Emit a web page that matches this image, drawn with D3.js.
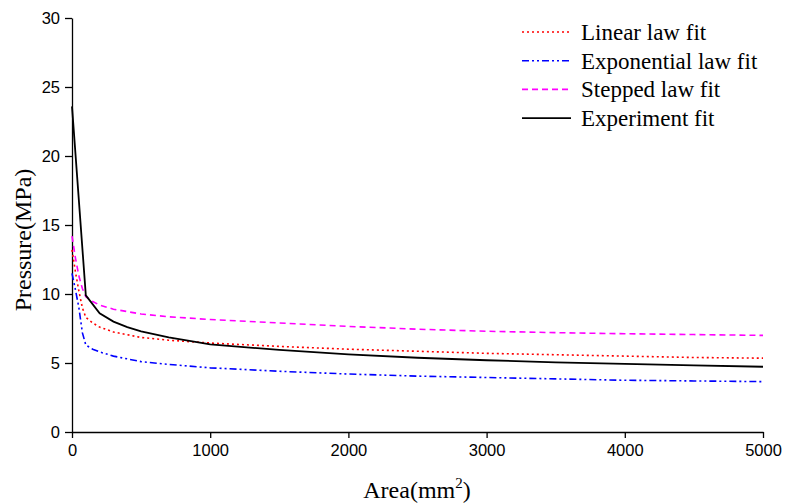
<!DOCTYPE html>
<html>
<head>
<meta charset="utf-8">
<script src="https://cdn.jsdelivr.net/npm/d3@7"></script>
<style>
  body { margin: 0; background: #fff; }
  svg { display: block; }
  .tick text { font-family: "Liberation Sans", Arial, sans-serif; font-size: 16.5px; fill: #000; }
</style>
</head>
<body>
<div id="chart"></div>
<script>
// x values (area, mm^2) and fitted pressures (MPa)
var areaExp = [0, 100, 200, 300, 400, 500, 700, 1000, 1500, 2000, 2500, 3000, 3500, 4000, 4500, 5000];
var pressExp = [23.6, 9.9, 8.6, 8.0, 7.6, 7.3, 6.85, 6.35, 5.95, 5.62, 5.38, 5.2, 5.05, 4.93, 4.83, 4.73];

var areaFit = [0, 25, 50, 75, 100, 150, 200, 300, 500, 700, 1000, 1500, 2000, 2500, 3000, 3500, 4000, 4500, 5000];
var pressLinear = [13.2, 11.6, 10.2, 9.0, 8.3, 7.9, 7.6, 7.25, 6.85, 6.65, 6.45, 6.2, 6.0, 5.85, 5.7, 5.6, 5.5, 5.4, 5.35];
var pressExpo = [11.5, 10.3, 9.0, 7.2, 6.3, 6.0, 5.8, 5.5, 5.1, 4.9, 4.65, 4.4, 4.2, 4.05, 3.95, 3.85, 3.75, 3.7, 3.65];
var pressStepped = [14.2, 12.6, 11.3, 10.4, 9.8, 9.45, 9.2, 8.9, 8.55, 8.35, 8.15, 7.9, 7.65, 7.45, 7.3, 7.2, 7.12, 7.06, 7.0];

var xTicks = [0, 1000, 2000, 3000, 4000, 5000];
var yTicks = [0, 5, 10, 15, 20, 25, 30];

var seriesList = [
  {name: "Linear law fit", x: areaFit, y: pressLinear, color: "#ff0000", dash: "2,3", width: 1.6},
  {name: "Exponential law fit", x: areaFit, y: pressExpo, color: "#0000ff", dash: "7,3,2,3,2,3", width: 1.6},
  {name: "Stepped law fit", x: areaFit, y: pressStepped, color: "#ff00ff", dash: "6,4", width: 1.6},
  {name: "Experiment fit", x: areaExp, y: pressExp, color: "#000000", dash: null, width: 1.8}
];

var width = 786, height = 504;
var margin = {left: 72, right: 23, top: 18, bottom: 72};
var serif = "'Liberation Serif', 'Times New Roman', serif";

var svg = d3.select("#chart").append("svg")
  .attr("width", width)
  .attr("height", height);

var xScale = d3.scaleLinear().domain([0, 5000]).range([margin.left, width - margin.right]);
var yScale = d3.scaleLinear().domain([0, 30]).range([height - margin.bottom, margin.top]);

//x axis
svg.append("g")
  .attr("transform", "translate(0," + (height - margin.bottom) + ")")
  .call(d3.axisBottom(xScale).tickValues(xTicks).tickFormat(d3.format("d"))
    .tickSize(6).tickSizeOuter(0).tickPadding(6));

//y axis
svg.append("g")
  .attr("transform", "translate(" + margin.left + ",0)")
  .call(d3.axisLeft(yScale).tickValues(yTicks).tickFormat(d3.format("d"))
    .tickSize(7).tickSizeOuter(0).tickPadding(5));

svg.selectAll(".domain, .tick line").style("stroke", "#000").style("stroke-width", 1.3);

//curves
var line = d3.line()
  .x(function(d){ return xScale(d[0]); })
  .y(function(d){ return yScale(d[1]); });

svg.selectAll(".curve")
  .data(seriesList)
  .enter().append("path")
  .attr("class", "curve")
  .attr("d", function(s){
    return line(s.x.map(function(v, i){ return [v, s.y[i]]; }));
  })
  .style("fill", "none")
  .style("stroke", function(s){ return s.color; })
  .style("stroke-width", function(s){ return s.width; })
  .style("stroke-dasharray", function(s){ return s.dash; });

//legend
var legend = svg.append("g").attr("transform", "translate(522,32)");
var rows = legend.selectAll("g")
  .data(seriesList)
  .enter().append("g")
  .attr("transform", function(d, i){ return "translate(0," + (i * 28.7) + ")"; });

rows.append("line")
  .attr("x1", 0).attr("x2", 49)
  .attr("y1", 0).attr("y2", 0)
  .style("stroke", function(s){ return s.color; })
  .style("stroke-width", function(s){ return s.width; })
  .style("stroke-dasharray", function(s){ return s.dash; });

rows.append("text")
  .attr("x", 59)
  .attr("y", 8)
  .style("font-family", serif)
  .style("font-size", "23px")
  .text(function(s){ return s.name; });

//axis titles
var xTitle = svg.append("text")
  .attr("x", 417)
  .attr("y", 498)
  .style("text-anchor", "middle")
  .style("font-family", serif)
  .style("font-size", "24px");
xTitle.append("tspan").text("Area(mm");
xTitle.append("tspan").attr("dy", -10).style("font-size", "15px").text("2");
xTitle.append("tspan").attr("dy", 10).text(")");

svg.append("text")
  .attr("transform", "translate(31,240) rotate(-90)")
  .style("text-anchor", "middle")
  .style("font-family", serif)
  .style("font-size", "24px")
  .text("Pressure(MPa)");
</script>
</body>
</html>
